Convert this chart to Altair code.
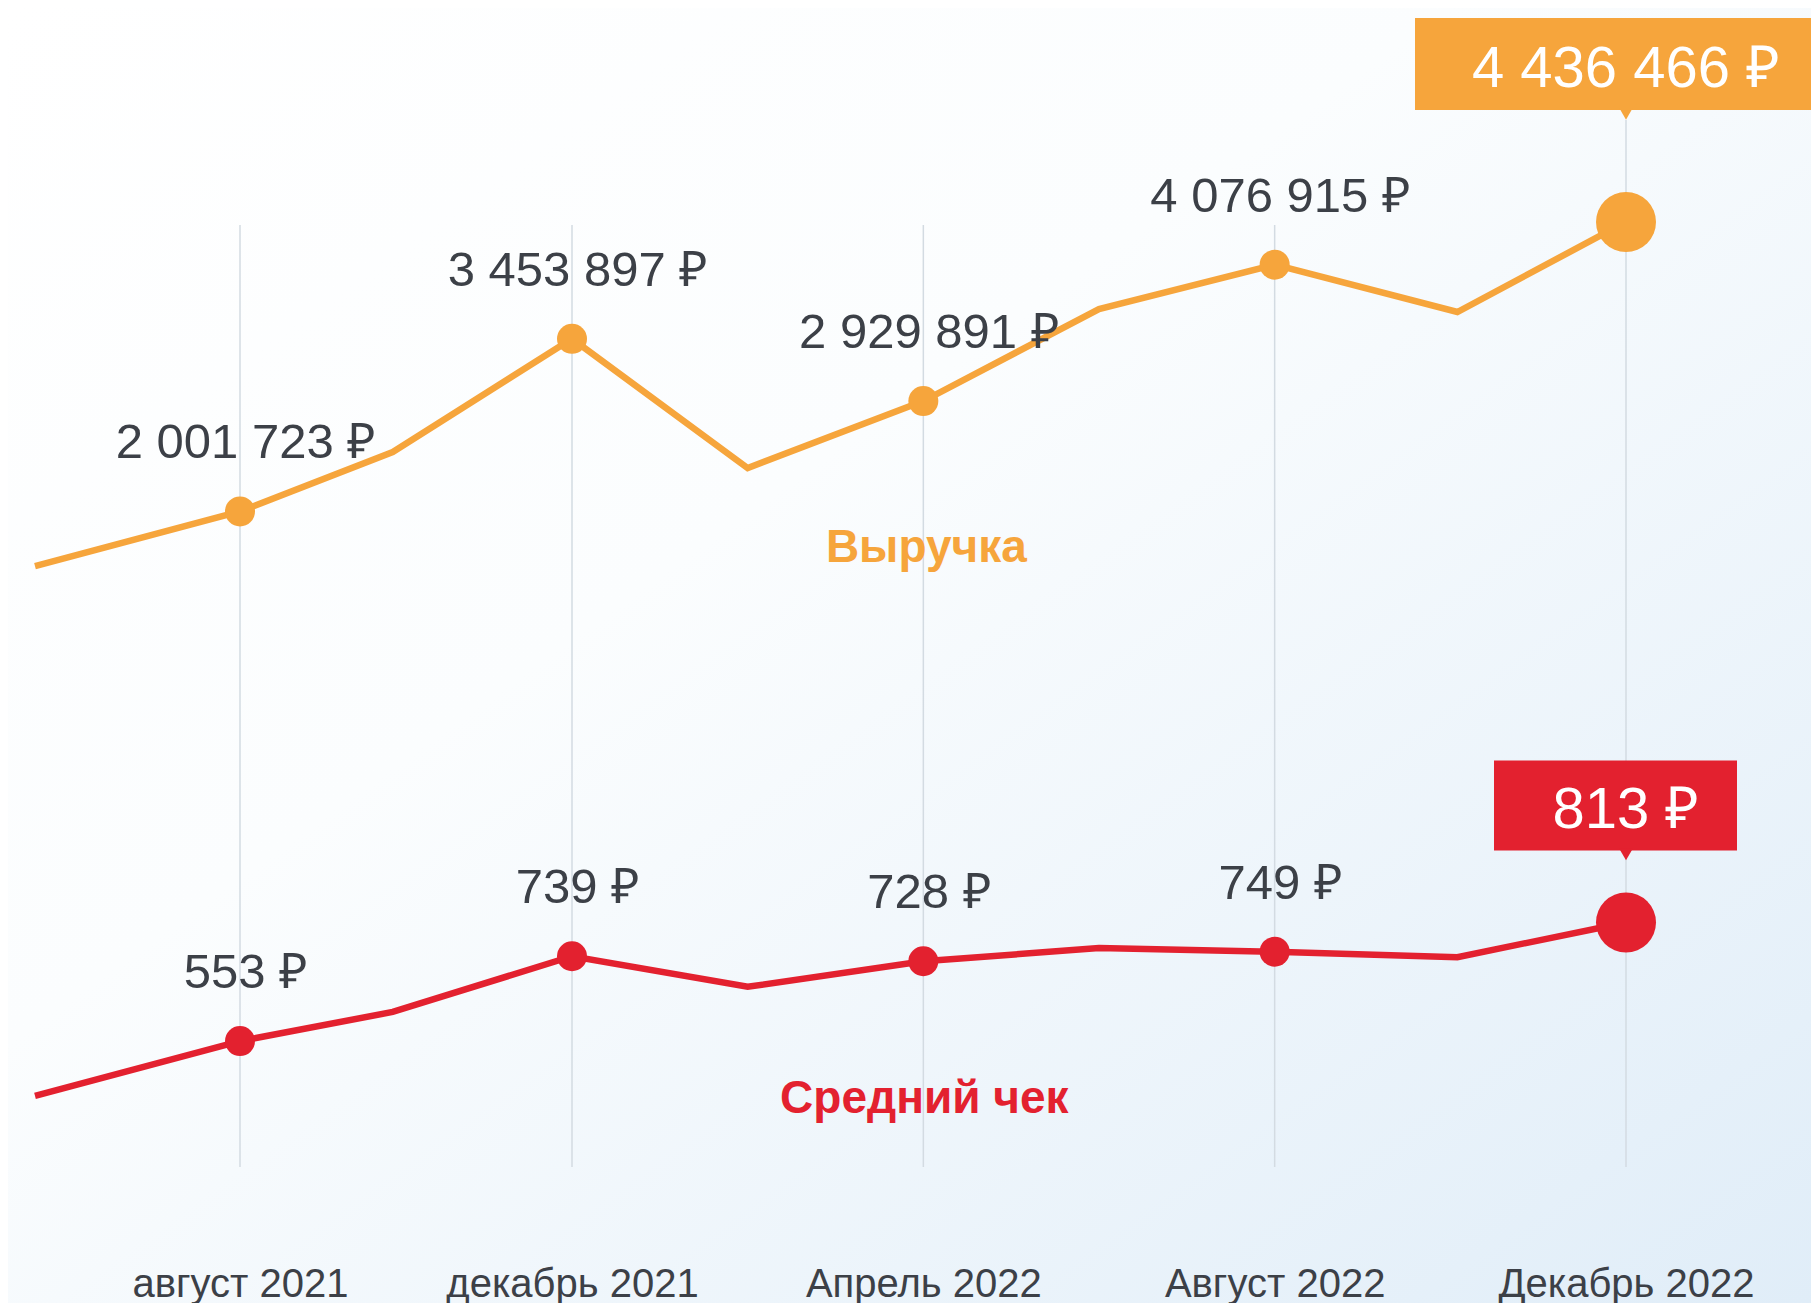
import altair as alt
import pandas as pd

# ---- data ----
month_pos = [-2.47, 0, 1.84, 4, 6, 8, 10, 12, 14.08, 16]          # months since Aug 2021
revenue = [1543000, 2001723, 2502000, 3453897, 2367000, 2929891, 3704000, 4076915, 3679000, 4436466]
avg_check = [433, 553, 617, 739, 672, 728, 757, 749, 737, 813]
labeled = [False, True, False, True, False, True, False, True, False, False]
tick_months = [0, 4, 8, 12, 16]
tick_labels = ["август 2021", "декабрь 2021", "Апрель 2022", "Август 2022", "Декабрь 2022"]
series_names = ["Выручка", "Средний чек"]
last_month = 16

ORANGE = "#F6A53C"
RED = "#E3212F"
GREY = "#3c4047"
GRID = "#d3dbe2"
FONT = "Liberation Sans"

W, H = 1803, 1240


def rub(v):
    return f"{v:,}".replace(",", " ") + " ₽"


df = pd.DataFrame({
    "month": month_pos,
    "rev": revenue,
    "chk": avg_check,
    "labeled": labeled,
})
df["rev_lbl"] = [rub(v) for v in revenue]
df["chk_lbl"] = [rub(v) for v in avg_check]
df_lab = df[df["labeled"]]
df_last = df[df["month"] == last_month]
df_grid = pd.DataFrame({"month": tick_months, "lbl": tick_labels})
df_names = pd.DataFrame({"month": [8, 8], "name": series_names})

label_expr = ""
for m, l in zip(tick_months, tick_labels):
    label_expr += f"datum.value == {m} ? '{l}' : "
label_expr += "''"

xscale = alt.Scale(domain=[-3, 0, 4, 16], range=[-17, 232, 564, 1618], nice=False, zero=False)
xaxis = alt.Axis(values=tick_months, labelExpr=label_expr, title=None, domain=False, ticks=False,
                 tickSize=0, grid=False, labelFontSize=40, labelFont=FONT, labelColor=GREY,
                 labelPadding=48, labelBaseline="alphabetic", labelFlush=False, labelOverlap=False,
                 labelLimit=600, zindex=2)


def X():
    return alt.X("month:Q", scale=xscale, axis=xaxis)


rev_scale = alt.Scale(domain=[1000000, 5000000], range=[622.6, 146.9], nice=False, zero=False)
chk_scale = alt.Scale(domain=[400, 900], range=[1102.9, 874.8], nice=False, zero=False)


def YR():
    return alt.Y("rev:Q", scale=rev_scale, axis=None)


def YC():
    return alt.Y("chk:Q", scale=chk_scale, axis=None)


bg = alt.Chart(pd.DataFrame({"a": [0]})).mark_rect(
    color=alt.LinearGradient(
        gradient="linear",
        stops=[alt.GradientStop(color="#ffffff", offset=0),
               alt.GradientStop(color="#fbfdfe", offset=0.4),
               alt.GradientStop(color="#e0edf8", offset=1)],
        x1=0, y1=0, x2=1, y2=1)
).encode(x=alt.value(0), x2=alt.value(W), y=alt.value(0), y2=alt.value(H + 55))

grid = alt.Chart(df_grid).mark_rule(color=GRID, strokeWidth=1.5).encode(
    x=X(), y=alt.value(217), y2=alt.value(1159))
grid_top = alt.Chart(df_grid[df_grid["month"] == last_month]).mark_rule(color=GRID, strokeWidth=1.5).encode(
    x=X(), y=alt.value(112), y2=alt.value(217))

rev_line = alt.Chart(df).mark_line(color=ORANGE, strokeWidth=6.5).encode(x=X(), y=YR())
chk_line = alt.Chart(df).mark_line(color=RED, strokeWidth=6.5).encode(x=X(), y=YC())

rev_dots = alt.Chart(df_lab).mark_circle(color=ORANGE, opacity=1, size=900).encode(x=X(), y=YR())
chk_dots = alt.Chart(df_lab).mark_circle(color=RED, opacity=1, size=900).encode(x=X(), y=YC())
rev_big = alt.Chart(df_last).mark_circle(color=ORANGE, opacity=1, size=3600).encode(x=X(), y=YR())
chk_big = alt.Chart(df_last).mark_circle(color=RED, opacity=1, size=3600).encode(x=X(), y=YC())

rev_lbl = alt.Chart(df_lab).mark_text(font=FONT, fontSize=49, color=GREY, align="center",
                                      baseline="alphabetic", dx=6, dy=-53).encode(
    x=X(), y=YR(), text="rev_lbl:N")
chk_lbl = alt.Chart(df_lab).mark_text(font=FONT, fontSize=49, color=GREY, align="center",
                                      baseline="alphabetic", dx=6, dy=-53).encode(
    x=X(), y=YC(), text="chk_lbl:N")

# callouts
rev_box = alt.Chart(df_last).mark_rect(color=ORANGE, xOffset=-211, x2Offset=240,
                                        yOffset=-204, y2Offset=-112).encode(
    x=X(), x2="month:Q", y=YR(), y2="rev:Q")
rev_tri = alt.Chart(df_last).mark_point(shape="triangle-down", filled=True, color=ORANGE, opacity=1,
                                        size=180, yOffset=-108).encode(x=X(), y=YR())
rev_call = alt.Chart(df_last).mark_text(font=FONT, fontSize=58, color="white", align="center",
                                        baseline="alphabetic", dy=-135).encode(
    x=X(), y=YR(), text="rev_lbl:N")

chk_box = alt.Chart(df_last).mark_rect(color=RED, xOffset=-132, x2Offset=111,
                                        yOffset=-162, y2Offset=-72).encode(
    x=X(), x2="month:Q", y=YC(), y2="chk:Q")
chk_tri = alt.Chart(df_last).mark_point(shape="triangle-down", filled=True, color=RED, opacity=1,
                                        size=180, yOffset=-68).encode(x=X(), y=YC())
chk_call = alt.Chart(df_last).mark_text(font=FONT, fontSize=58, color="white", align="center",
                                        baseline="alphabetic", dy=-94).encode(
    x=X(), y=YC(), text="chk_lbl:N")

name_rev = alt.Chart(df_names.iloc[[0]]).mark_text(font=FONT, fontSize=46, fontWeight="bold", color=ORANGE,
                                                   align="center", baseline="alphabetic", dx=3).encode(
    x=X(), y=alt.value(554), text="name:N")
name_chk = alt.Chart(df_names.iloc[[1]]).mark_text(font=FONT, fontSize=46, fontWeight="bold", color=RED,
                                                   align="center", baseline="alphabetic", dx=1).encode(
    x=X(), y=alt.value(1105), text="name:N")

chart = alt.layer(
    bg, grid, grid_top,
    rev_line, chk_line,
    rev_dots, chk_dots, rev_big, chk_big,
    rev_lbl, chk_lbl,
    rev_box, rev_tri, rev_call,
    chk_box, chk_tri, chk_call,
    name_rev, name_chk,
).resolve_scale(y="independent").properties(
    width=W, height=H,
    autosize=alt.AutoSizeParams(type="none"),
    padding={"left": 0, "right": 0, "top": 0, "bottom": 55},
).configure_view(stroke=None)

chart.save("out.html", embed_options={"renderer": "svg", "actions": False})
